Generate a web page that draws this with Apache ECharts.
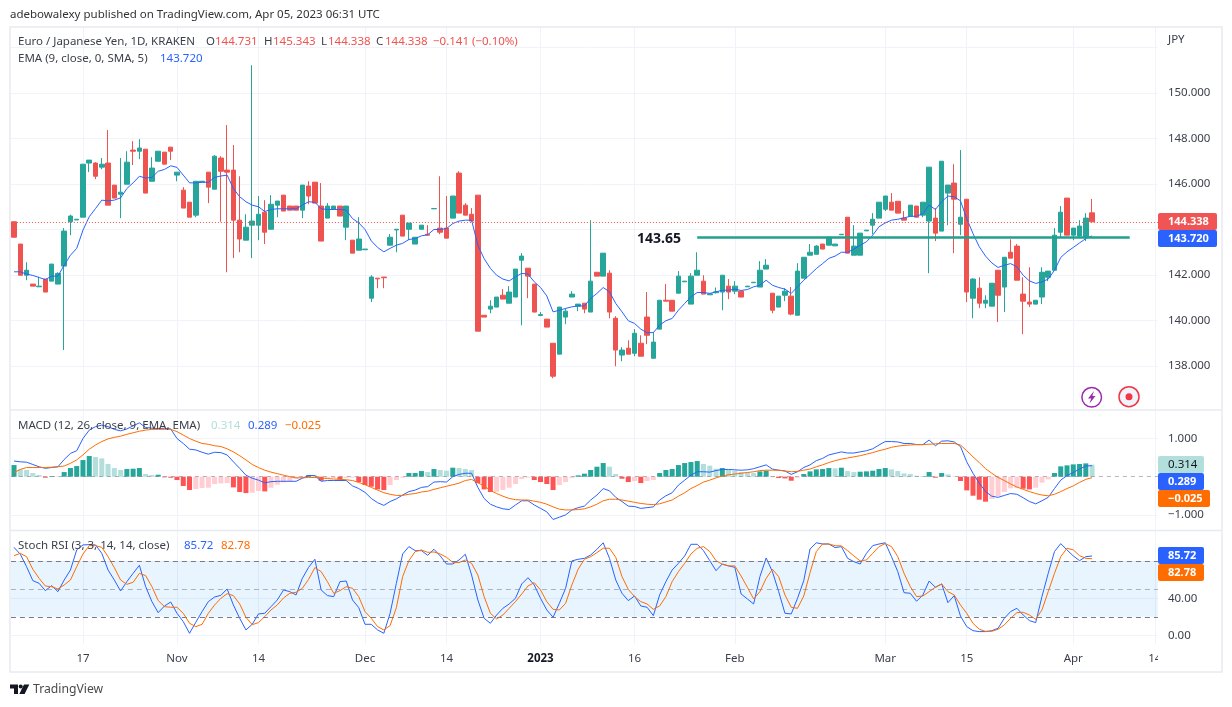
<!DOCTYPE html>
<html>
<head>
<meta charset="utf-8">
<title>EUR/JPY 1D</title>
<script src="https://cdn.jsdelivr.net/npm/echarts@6/dist/echarts.min.js"></script>
<style>
  html, body { margin: 0; padding: 0; background: #fff; }
  #chart { width: 1232px; height: 707px; }
</style>
</head>
<body>
<div id="chart"></div>
<script>
// Candles, oldest first
const opens = [
  144.34,143.36,141.99,141.60,141.48,141.82,141.73,141.60,142.39,144.34,
  144.42,144.54,146.92,146.92,146.74,146.92,145.95,145.55,145.99,147.49,
  147.44,147.53,146.12,147.00,147.40,147.62,146.39,145.73,145.20,144.63,
  146.08,146.52,145.77,147.14,146.61,146.61,144.41,143.53,144.19,144.19,
  144.76,144.01,145.07,145.51,145.03,145.03,144.85,145.91,146.08,145.03,
  144.50,144.89,145.03,144.10,143.53,143.09,143.11,140.98,141.86,141.91,
  143.31,143.98,144.63,144.01,143.36,144.01,143.79,144.91,144.06,144.06,
  144.50,146.48,145.07,144.67,145.51,140.23,140.50,140.59,141.11,140.76,
  141.03,142.65,142.30,141.60,140.22,140.06,139.00,138.52,140.15,141.03,
  140.63,140.76,140.37,142.12,141.95,142.08,140.10,138.48,138.78,138.56,
  139.00,140.15,138.34,139.62,140.89,140.89,141.20,141.70,140.72,141.99,
  141.73,141.13,141.22,141.25,141.51,141.29,141.29,141.48,141.66,141.47,
  142.26,141.20,140.59,141.11,141.07,140.23,141.86,142.87,142.91,143.36,
  143.31,143.28,143.77,144.54,142.87,142.87,143.94,144.19,144.50,144.89,
  145.20,145.24,144.50,144.58,145.03,144.63,144.37,144.50,143.93,145.60,
  146.04,144.23,145.33,140.98,141.42,140.76,140.63,142.21,141.47,143.00,
  143.27,141.16,140.81,140.72,141.03,141.90,142.21,143.88,145.38,143.75,
  143.71,143.66,144.731
];
const closes = [
  143.66,141.99,142.21,141.51,141.51,141.25,142.48,142.07,143.93,144.59,
  144.45,146.87,147.05,146.34,146.87,145.07,145.38,145.64,146.96,147.44,
  147.58,145.60,146.70,147.44,146.87,147.44,146.52,144.94,144.54,146.12,
  146.12,145.86,147.22,146.56,146.52,144.41,143.58,144.10,144.37,144.67,
  143.88,145.11,145.25,144.81,144.85,144.85,145.95,145.47,145.16,143.49,
  145.03,145.03,144.59,145.03,142.96,143.58,143.14,141.91,141.83,141.88,
  143.66,144.01,143.71,144.28,143.66,144.19,143.75,144.92,143.88,143.62,
  145.47,144.72,144.63,144.37,139.53,140.15,140.63,141.03,140.94,141.25,
  142.26,142.83,141.95,140.37,140.26,139.71,137.55,140.59,140.41,141.16,
  140.72,140.50,141.73,141.95,142.96,140.37,138.70,138.70,138.52,139.44,
  138.43,139.35,139.05,140.89,140.85,140.41,141.95,141.73,141.95,142.21,
  141.16,141.17,141.26,141.99,141.25,141.51,141.03,141.51,141.68,142.21,
  142.43,140.45,141.07,141.29,140.28,142.17,142.78,143.00,143.27,143.14,
  143.66,143.36,143.79,142.96,143.27,143.84,143.97,144.45,145.20,145.47,
  144.85,144.72,144.41,145.07,144.54,145.20,146.74,143.84,147.00,145.95,
  145.33,144.54,141.25,141.82,140.76,140.89,141.64,141.11,142.78,142.74,
  141.77,140.85,140.72,140.89,142.12,142.17,143.75,144.76,143.75,144.06,
  144.15,144.50,144.338
];
const lows = [
  143.66,141.99,141.77,141.51,141.48,141.25,141.73,141.60,138.70,143.75,
  144.42,144.54,146.52,146.21,146.65,145.07,145.38,144.50,145.99,146.83,
  147.09,145.60,146.12,147.00,146.87,147.05,146.12,144.94,144.54,144.54,
  146.08,145.16,145.77,144.34,142.12,142.74,143.00,143.53,142.74,143.53,
  143.36,144.01,144.54,144.81,144.85,144.85,144.50,145.11,145.16,143.49,
  144.50,144.89,144.59,143.53,142.96,143.09,143.11,140.81,141.42,141.42,
  143.31,143.00,143.71,143.53,143.36,144.01,143.75,144.91,143.79,143.62,
  144.50,144.72,144.63,144.37,139.53,140.15,140.32,140.59,140.94,140.76,
  141.03,139.79,140.98,140.37,140.19,139.71,137.46,138.52,139.84,141.03,
  140.41,140.32,140.37,141.95,141.95,140.10,137.99,138.21,138.52,138.43,
  138.43,138.96,138.34,139.62,140.85,140.41,141.20,141.70,140.72,141.99,
  141.16,141.13,141.19,140.45,140.94,141.16,141.03,141.48,141.66,141.47,
  142.26,140.32,140.59,140.85,140.23,140.23,141.86,142.87,142.91,143.14,
  143.31,143.28,143.77,142.96,142.87,142.87,143.94,143.79,144.50,144.81,
  144.85,144.72,144.41,144.58,144.54,144.54,142.08,143.49,143.93,144.19,
  142.96,143.75,140.81,140.10,140.54,140.54,140.63,139.93,140.37,142.74,
  141.77,139.40,140.59,140.72,140.72,141.73,142.21,143.66,143.75,143.53,
  143.66,143.49,144.338
];
const highs = [
  144.34,143.36,142.56,141.60,141.92,141.82,142.48,142.12,144.06,144.65,
  144.45,146.87,147.05,146.96,147.14,148.37,145.95,147.14,147.44,147.88,
  147.97,147.53,147.18,147.44,147.40,147.62,146.52,145.86,145.20,146.12,
  146.12,146.52,147.27,147.22,148.59,147.71,146.34,144.67,151.22,145.47,
  145.29,145.51,145.25,145.51,145.03,145.03,145.95,146.12,146.08,146.04,
  145.16,145.03,145.03,145.03,143.53,144.54,143.14,141.99,141.86,141.91,
  143.80,144.01,144.63,144.28,143.66,144.19,144.19,144.92,146.34,145.47,
  145.47,146.56,145.16,144.94,145.51,140.23,140.89,141.03,141.38,141.51,
  142.26,142.96,142.30,141.60,140.37,140.06,139.00,140.59,140.54,141.29,
  140.72,140.76,144.41,142.12,142.96,142.21,140.19,138.83,139.13,139.62,
  139.35,141.25,139.49,140.89,141.60,140.89,142.17,141.73,142.08,143.00,
  141.99,141.17,141.45,141.99,141.82,141.73,141.29,141.51,141.68,142.61,
  142.70,141.20,141.07,141.42,141.47,142.52,142.78,143.36,143.31,143.36,
  143.66,143.36,143.79,144.54,144.19,143.84,143.97,144.72,145.20,145.47,
  145.60,145.24,144.81,145.07,145.03,145.20,146.74,144.94,147.00,145.95,
  146.87,147.49,145.33,141.86,141.90,141.11,141.64,142.21,142.78,143.57,
  143.36,141.90,142.34,140.89,142.34,142.17,144.06,145.03,145.38,144.06,
  144.41,144.72,145.343
];
const ema = [
  142.14,142.14,142.04,141.98,141.89,141.80,141.95,141.95,142.43,142.87,
  143.17,143.97,144.56,144.92,145.29,145.26,145.29,145.39,145.80,146.05,
  146.34,146.26,146.29,146.56,146.64,146.80,146.73,146.39,146.05,146.05,
  146.08,146.07,146.29,146.35,146.39,145.80,145.44,145.22,145.07,145.00,
  144.79,144.88,144.91,144.91,144.91,144.91,145.07,145.22,145.20,144.91,
  144.88,144.88,144.88,144.85,144.48,144.29,144.00,143.50,143.21,143.02,
  143.17,143.31,143.39,143.56,143.60,143.72,143.77,144.00,144.00,144.04,
  144.26,144.37,144.41,144.41,143.31,142.72,142.29,141.99,141.82,141.74,
  141.92,142.07,142.04,141.70,141.45,141.08,140.38,140.45,140.53,140.60,
  140.64,140.64,140.97,141.19,141.45,141.26,140.75,140.38,139.99,139.87,
  139.62,139.46,139.47,139.79,139.99,140.09,140.45,140.75,141.04,141.23,
  141.23,141.19,141.26,141.33,141.33,141.38,141.32,141.36,141.48,141.55,
  141.77,141.55,141.45,141.38,141.19,141.48,141.77,142.02,142.28,142.50,
  142.73,142.83,143.00,143.00,143.14,143.31,143.46,143.75,144.12,144.29,
  144.41,144.45,144.51,144.58,144.58,144.70,145.07,144.88,145.22,145.47,
  145.44,145.26,144.48,143.82,143.24,142.83,142.53,142.33,142.43,142.50,
  142.36,141.99,141.74,141.63,141.70,141.82,142.21,142.77,143.02,143.21,
  143.41,143.60,143.72
];

// MACD pane
const macdHist = [
  .305,.192,.175,.096,.044,-.026,.017,.013,.122,.227,
  .279,.436,.541,.515,.480,.332,.227,.175,.201,.209,
  .227,.070,.044,.052,-.017,-.026,-.087,-.244,-.349,-.323,
  -.297,-.288,-.192,-.175,-.166,-.279,-.401,-.428,-.419,-.375,
  -.384,-.288,-.209,-.148,-.122,-.052,-.035,.044,.035,-.105,
  -.044,-.035,-.070,-.035,-.026,-.140,-.218,-.262,-.332,-.349,
  -.218,-.087,-.026,.096,.096,.148,.122,.201,.175,.157,
  .236,.227,.201,.175,-.166,-.332,-.401,-.393,-.349,-.288,
  -.192,-.061,-.026,-.087,-.140,-.192,-.349,-.218,-.140,-.035,
  .035,.079,.175,.262,.358,.262,.070,-.052,-.140,-.113,
  -.166,-.113,-.087,.096,.175,.201,.305,.358,.384,.410,
  .332,.288,.209,.227,.175,.157,.122,.113,.096,.140,
  .157,-.009,-.035,-.044,-.105,-.026,.070,.140,.192,.201,
  .227,.218,.236,.148,.122,.131,.140,.157,.201,.227,
  .192,.148,.087,.070,.026,.017,.122,-.026,.096,.061,
  .009,-.113,-.358,-.497,-.602,-.654,-.585,-.506,-.401,-.305,
  -.297,-.314,-.332,-.288,-.157,-.070,.096,.271,.297,.323,
  .332,.349,.314
];
const macdLine = [
  .41,.39,.38,.32,.26,.22,.24,.26,.45,.61,
  .68,1.00,1.22,1.31,1.35,1.31,1.24,1.20,1.25,1.33,
  1.41,1.29,1.27,1.26,1.27,1.25,1.00,.87,.72,.70,
  .64,.59,.64,.63,.57,.39,.22,.04,-.04,-.09,
  -.16,-.13,-.12,-.12,-.12,-.12,-.04,.03,.03,-.12,
  -.10,-.10,-.10,-.10,-.24,-.31,-.41,-.57,-.68,-.75,
  -.65,-.58,-.48,-.39,-.35,-.28,-.26,-.14,-.13,-.14,
  0,.06,.09,.09,-.28,-.57,-.72,-.79,-.84,-.86,
  -.74,-.63,-.63,-.74,-.83,-.92,-1.12,-1.06,-1.00,-.87,
  -.81,-.77,-.61,-.48,-.31,-.37,-.54,-.65,-.77,-.78,
  -.83,-.81,-.79,-.61,-.50,-.42,-.22,-.09,.04,.13,
  .13,.12,.16,.19,.19,.18,.17,.18,.21,.26,
  .31,.20,.17,.15,.06,.13,.24,.31,.42,.48,
  .57,.61,.65,.62,.62,.65,.68,.73,.83,.92,
  .92,.91,.87,.87,.84,.84,.96,.81,.93,.94,
  .91,.79,.39,.09,-.17,-.39,-.51,-.54,-.49,-.44,
  -.46,-.55,-.65,-.71,-.63,-.54,-.31,-.09,.03,.11,
  .20,.28,.289
];
const macdSignal = [
  .11,.19,.24,.24,.24,.24,.25,.26,.28,.35,
  .44,.57,.72,.83,.92,.99,1.03,1.06,1.11,1.15,
  1.19,1.22,1.24,1.24,1.24,1.24,1.18,1.09,1.00,.93,
  .87,.85,.81,.79,.73,.65,.55,.44,.32,.24,
  .17,.12,.08,.04,0,-.03,-.03,-.02,-.02,-.03,
  -.05,-.06,-.07,-.08,-.10,-.15,-.21,-.28,-.35,-.42,
  -.46,-.49,-.49,-.46,-.44,-.40,-.38,-.33,-.29,-.25,
  -.21,-.17,-.10,-.07,-.16,-.24,-.36,-.44,-.51,-.57,
  -.60,-.61,-.61,-.64,-.67,-.72,-.79,-.85,-.87,-.87,
  -.86,-.84,-.79,-.72,-.63,-.59,-.59,-.61,-.64,-.67,
  -.70,-.72,-.73,-.71,-.66,-.61,-.51,-.42,-.31,-.23,
  -.14,-.09,-.03,.02,.05,.07,.09,.11,.13,.16,
  .17,.17,.17,.15,.13,.14,.17,.20,.26,.31,
  .37,.42,.46,.49,.52,.55,.59,.63,.68,.72,
  .77,.80,.82,.83,.84,.84,.85,.86,.87,.87,
  .87,.83,.68,.52,.37,.21,.09,-.02,-.10,-.19,
  -.27,-.33,-.39,-.44,-.48,-.50,-.46,-.39,-.31,-.24,
  -.15,-.07,-.025
];

// Stoch RSI pane
const stochK = [
  95.1,87.6,74.2,59.1,56.2,48.3,53.7,47.2,59.8,70.6,
  92.3,97.7,98.0,97.7,88.6,70.6,59.8,47.9,58.0,67.0,
  75.7,52.6,36.4,24.5,31.7,36.0,23.8,14.8,2.2,14.1,
  25.6,36.4,41.4,43.2,50.1,32.8,18.4,5.8,11.9,23.1,
  23.8,31.0,38.2,49.0,47.2,43.6,61.6,73.5,82.2,49.0,
  42.9,41.8,58.0,58.7,38.2,29.9,11.9,11.9,5.8,2.2,
  23.8,56.2,87.9,95.9,91.5,91.5,86.5,93.0,85.8,77.1,
  77.1,81.4,87.6,65.2,38.2,18.4,13.0,22.0,29.2,33.9,
  40.0,55.5,62.3,54.4,40.0,27.4,19.5,34.6,50.8,80.4,
  82.2,83.2,86.8,93.0,100,83.2,59.8,45.4,37.5,42.5,
  31.7,30.3,21.3,43.6,58.0,70.6,77.8,85.8,98.4,98.4,
  91.5,80.7,69.9,77.1,75.0,73.5,44.7,39.3,33.9,63.4,
  83.6,68.8,47.2,23.8,23.1,40.0,59.1,93.3,100,98.7,
  98.7,94.8,95.9,83.2,79.6,77.1,88.6,96.9,98.7,100,
  85.0,68.8,46.1,45.4,36.8,43.6,58.7,51.9,55.5,35.3,
  42.9,20.9,9.4,5.0,4.0,4.0,5.0,7.6,18.4,25.6,
  29.2,22.0,15.9,13.7,41.8,67.0,90.5,99.1,92.3,85.8,
  80.7,85.0,85.72
];
const stochD = [
  86.1,88.6,85.0,71.4,61.6,53.3,52.6,50.1,54.4,59.8,
  74.2,87.9,96.9,96.9,95.1,85.0,73.2,59.8,55.1,57.3,
  67.0,64.5,52.6,37.5,31.0,30.3,30.3,23.8,13.0,9.4,
  11.9,23.8,32.8,40.0,45.0,42.9,33.9,19.5,11.5,13.7,
  20.2,27.4,32.8,40.4,45.4,46.5,50.8,60.5,73.2,68.8,
  58.0,45.4,48.3,52.6,50.8,41.8,25.6,18.4,9.4,5.8,
  10.5,29.9,63.4,80.7,90.5,92.3,89.7,90.1,87.9,84.3,
  78.9,78.6,81.4,77.8,65.2,41.8,23.8,17.7,22.0,29.2,
  36.4,44.7,53.3,56.9,49.0,36.4,28.1,27.4,34.6,54.4,
  71.4,82.2,85.0,89.4,94.1,94.1,84.3,63.4,49.7,41.8,
  36.4,33.9,28.1,31.7,41.8,58.0,68.8,77.8,87.9,94.1,
  95.9,90.5,80.7,76.8,75.0,75.0,64.1,51.9,39.3,47.2,
  61.6,71.4,63.4,43.6,30.3,29.2,42.5,67.7,90.5,98.7,
  98.7,96.9,96.6,91.5,85.8,80.4,81.4,88.6,95.9,99.1,
  95.9,85.0,67.0,52.6,41.8,42.5,47.2,51.9,55.5,47.2,
  43.6,32.8,23.8,13.0,6.5,4.3,4.3,6.5,11.2,18.4,
  24.5,24.9,22.0,17.3,27.4,47.2,67.0,85.0,94.1,92.3,
  86.1,83.2,82.78
];

// Time axis: 183 slots, with the tick names at their slot index
const slotCount = 183;
const tickSlots = [11, 26, 39, 56, 69, 84, 99, 115, 139, 152, 169, 182];
const tickNames = ['17', 'Nov', '14', 'Dec', '14', '2023', '16', 'Feb', 'Mar', '15', 'Apr', '14'];
const categories = Array.from({ length: slotCount }, (_, i) => {
  const k = tickSlots.indexOf(i);
  return k >= 0 ? tickNames[k] : '';
});

const priceTicks = [138, 140, 142, 144, 146, 148, 150];
const macdTicks = [-1, 1];
const stochTicks = [0, 40];
const lastPrice = 144.338;
const supportLevel = 143.65;

const UP = '#26a69a';
const DOWN = '#ef5350';
const BLUE = '#2962ff';
const ORANGE = '#ff6d00';
const GRIDLINE = '#f0f3fa';
const FRAME = '#e8eaf1';
const TEXT = '#3b3f4a';
const FONT = '"Noto Sans", sans-serif';
const SIZE = 11.5;

const isTick = (i) => tickSlots.includes(i);

/** Colour of a histogram column: shade depends on side of zero and direction. */
function histColor(i) {
  const v = macdHist[i];
  const rising = i === 0 || v >= macdHist[i - 1];
  if (v >= 0) return rising ? '#26a69a' : '#b2dfdb';
  return rising ? '#ffcdd2' : '#ff5252';
}

function xAxisFor(gridIndex, showLabels) {
  return {
    type: 'category',
    gridIndex,
    data: categories,
    boundaryGap: true,
    axisLine: { show: false },
    axisTick: { show: false, alignWithLabel: true },
    splitLine: {
      show: true,
      interval: (i) => isTick(i),
      alignWithLabel: true,
      lineStyle: { color: GRIDLINE, width: 1 }
    },
    axisLabel: {
      show: showLabels,
      interval: (i) => isTick(i),
      margin: 9,
      color: TEXT,
      fontFamily: FONT,
      fontSize: SIZE,
      formatter: (v) => (v === '2023' ? '{year|2023}' : v),
      rich: { year: { fontFamily: FONT, fontSize: SIZE, fontWeight: 'bold', color: '#131722' } }
    }
  };
}

function yAxisFor(gridIndex, min, max, ticks, labels, digits) {
  return {
    type: 'value',
    gridIndex,
    position: 'right',
    min,
    max,
    scale: true,
    axisLine: { show: false },
    axisTick: { show: false, customValues: ticks },
    splitLine: { show: true, lineStyle: { color: GRIDLINE, width: 1 } },
    axisLabel: {
      customValues: labels,
      margin: 10,
      padding: [2, 0, 0, 0],
      color: TEXT,
      fontFamily: FONT,
      fontSize: SIZE,
      formatter: (v) => v.toFixed(digits).replace('-', '\u2212')
    }
  };
}

function lineSeries(name, data, color, xAxisIndex, yAxisIndex) {
  return {
    name,
    type: 'line',
    data,
    xAxisIndex,
    yAxisIndex,
    symbol: 'none',
    smooth: false,
    z: 4,
    lineStyle: { color, width: 1 }
  };
}

function hLine(value, color, type, width) {
  return { yAxis: value, lineStyle: { color, type, width: width || 1 } };
}

/** Plain text element for legends and captions. */
function label(x, y, text, color, extra) {
  return {
    type: 'text',
    x,
    y,
    z: 50,
    style: Object.assign({
      text,
      fill: color || TEXT,
      font: SIZE + 'px ' + FONT,
      textVerticalAlign: 'middle'
    }, extra || {})
  };
}

/** Coloured value tag on the price scale. */
function tag(y, w, color, text, textColor) {
  return [
    { type: 'rect', z: 40, shape: { x: 1158, y, width: w, height: 17, r: 2 }, style: { fill: color } },
    label(1168, y + 8.5, text, textColor || '#fff', { font: (textColor ? SIZE + 'px ' : 'bold 11px ') + FONT })
  ];
}

const graphics = [
  // right-hand clip of the last time label
  { type: 'rect', z: 30, shape: { x: 1158, y: 646, width: 63, height: 25 }, style: { fill: '#fff' } },
  // frame and pane separators
  { type: 'rect', z: 35, shape: { x: 10, y: 27, width: 1212, height: 645 }, style: { fill: 'none', stroke: FRAME, lineWidth: 1.5 } },
  { type: 'line', z: 35, shape: { x1: 10, y1: 410, x2: 1222, y2: 410 }, style: { stroke: FRAME, lineWidth: 1.5 } },
  { type: 'line', z: 35, shape: { x1: 10, y1: 530.5, x2: 1222, y2: 530.5 }, style: { stroke: FRAME, lineWidth: 1.5 } },

  label(10, 15, 'adebowalexy published on TradingView.com, Apr 05, 2023 06:31 UTC', '#333'),

  label(18, 42, 'Euro / Japanese Yen, 1D, KRAKEN'),
  label(206, 42, 'O'), label(215, 42, '144.731', DOWN),
  label(264, 42, 'H'), label(273, 42, '145.343', DOWN),
  label(321, 42, 'L'), label(328, 42, '144.338', DOWN),
  label(376, 42, 'C'), label(385, 42, '144.338', DOWN),
  label(433, 42, '\u22120.141 (\u22120.10%)', DOWN),
  label(18, 59, 'EMA (9, close, 0, SMA, 5)'),
  label(160, 59, '143.720', BLUE),

  label(18, 426, 'MACD (12, 26, close, 9, EMA, EMA)'),
  label(211, 426, '0.314', '#b2dfdb'),
  label(248, 426, '0.289', BLUE),
  label(285, 426, '\u22120.025', ORANGE),

  label(18, 546, 'Stoch RSI (3, 3, 14, 14, close)'),
  label(184, 546, '85.72', BLUE),
  label(221, 546, '82.78', ORANGE),

  label(1168, 40, 'JPY'),
  label(637, 239, '143.65', '#131722', { font: 'bold 14px ' + FONT }),

  ...tag(213, 59, '#f05454', '144.338'),
  ...tag(230, 59, BLUE, '143.720'),
  ...tag(456, 46, '#b2dfdb', '0.314', '#131722'),
  ...tag(473, 46, BLUE, '0.289'),
  ...tag(490, 52, ORANGE, '\u22120.025'),
  ...tag(547, 46, BLUE, '85.72'),
  ...tag(564, 46, ORANGE, '82.78'),

  // alert and record buttons
  { type: 'circle', z: 40, shape: { cx: 1091.7, cy: 397.3, r: 9.8 }, style: { fill: '#fff', stroke: '#9c27b0', lineWidth: 1.5 } },
  { type: 'polygon', z: 41, shape: { points: [[1094, 391], [1088, 398.5], [1091.2, 398.5], [1089.5, 403.5], [1095.5, 396], [1092.3, 396]] }, style: { fill: '#9c27b0' } },
  { type: 'circle', z: 40, shape: { cx: 1129, cy: 396.7, r: 10 }, style: { fill: '#f0f3fa', stroke: '#f23645', lineWidth: 1.5 } },
  { type: 'circle', z: 41, shape: { cx: 1129, cy: 396.7, r: 3.5 }, style: { fill: '#f23645' } },

  // TradingView logo
  { type: 'polygon', z: 40, shape: { points: [[10, 684.5], [18, 684.5], [18, 694], [14, 694], [14, 688.5], [10, 688.5]] }, style: { fill: '#131722' } },
  { type: 'circle', z: 40, shape: { cx: 20.7, cy: 686.5, r: 2 }, style: { fill: '#131722' } },
  { type: 'polygon', z: 40, shape: { points: [[24, 684.5], [29.3, 684.5], [24.6, 694], [19.3, 694]] }, style: { fill: '#131722' } },
  label(33, 689.5, 'TradingView', '#4a4a4a', { font: '12.2px ' + FONT })
];

const chart = echarts.init(document.getElementById('chart'), null, { renderer: 'canvas' });

chart.setOption({
  animation: false,
  backgroundColor: '#fff',
  grid: [
    { left: 10.9, width: 1147, top: 27, height: 383 },
    { left: 10.9, width: 1147, top: 411, height: 119 },
    { left: 10.9, width: 1147, top: 531, height: 113 }
  ],
  xAxis: [xAxisFor(0, false), xAxisFor(1, false), xAxisFor(2, true)],
  yAxis: [
    yAxisFor(0, 136.066, 152.9, priceTicks.concat([152]), priceTicks, 3),
    yAxisFor(1, -1.395, 1.72, macdTicks, [-1, 1], 3),
    yAxisFor(2, -9.4, 112.76, stochTicks.concat([80]), stochTicks, 2)
  ],
  graphic: graphics,
  series: [
    {
      name: 'EURJPY',
      type: 'candlestick',
      xAxisIndex: 0,
      yAxisIndex: 0,
      barWidth: 5,
      z: 3,
      data: opens.map((o, i) => [o, closes[i], lows[i], highs[i]]),
      itemStyle: { color: UP, color0: DOWN, borderColor: UP, borderColor0: DOWN, borderWidth: 1 },
      markLine: {
        silent: true,
        symbol: 'none',
        label: { show: false },
        data: [hLine(lastPrice, DOWN, [1, 2])]
      }
    },
    lineSeries('EMA', ema, BLUE, 0, 0),
    {
      name: 'Support',
      type: 'line',
      xAxisIndex: 0,
      yAxisIndex: 0,
      data: [],
      z: 5,
      markLine: {
        silent: true,
        symbol: 'none',
        label: { show: false },
        lineStyle: { color: '#22a08f', width: 2.5, type: 'solid' },
        data: [[{ xAxis: 109, yAxis: supportLevel }, { xAxis: 178, yAxis: supportLevel }]]
      }
    },
    {
      name: 'Histogram',
      type: 'bar',
      xAxisIndex: 1,
      yAxisIndex: 1,
      barWidth: 5,
      z: 2,
      data: macdHist.map((v, i) => ({ value: v, itemStyle: { color: histColor(i) } })),
      markLine: {
        silent: true,
        symbol: 'none',
        label: { show: false },
        data: [hLine(0, 'rgba(120,123,134,0.55)', [4, 4])]
      }
    },
    lineSeries('MACD', macdLine, BLUE, 1, 1),
    lineSeries('Signal', macdSignal, ORANGE, 1, 1),
    {
      name: 'Band',
      type: 'line',
      xAxisIndex: 2,
      yAxisIndex: 2,
      data: [],
      z: 1,
      markArea: {
        silent: true,
        itemStyle: { color: 'rgba(33,150,243,0.1)' },
        data: [[{ yAxis: 20 }, { yAxis: 80 }]]
      },
      markLine: {
        silent: true,
        symbol: 'none',
        label: { show: false },
        data: [
          hLine(80, '#787b86', [5, 4]),
          hLine(50, 'rgba(120,123,134,0.55)', [5, 4]),
          hLine(20, '#787b86', [5, 4])
        ]
      }
    },
    lineSeries('%K', stochK, BLUE, 2, 2),
    lineSeries('%D', stochD, ORANGE, 2, 2)
  ]
});
</script>
</body>
</html>
